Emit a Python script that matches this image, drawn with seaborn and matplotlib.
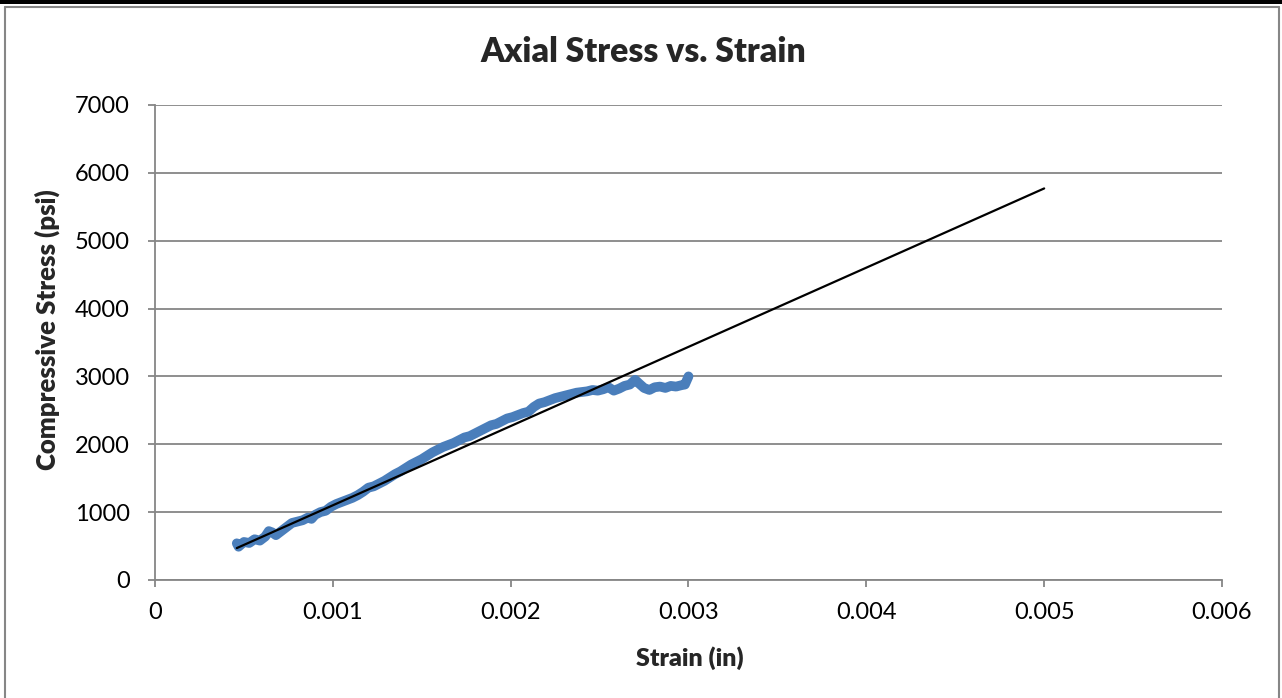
import numpy as np
import pandas as pd
import matplotlib.pyplot as plt
import seaborn as sns
from matplotlib.lines import Line2D
from matplotlib.patches import Rectangle
from matplotlib.ticker import FuncFormatter, MultipleLocator

sns.set_style('white')
plt.rcParams['font.family'] = ['Lato', 'DejaVu Sans']

strain_milli = [0.46, 0.47, 0.50, 0.53, 0.56, 0.59, 0.62, 0.64, 0.66, 0.68,
                0.71, 0.74, 0.77, 0.80, 0.83, 0.86, 0.88, 0.90, 0.93, 0.96,
                0.99, 1.02, 1.05, 1.08, 1.11, 1.14, 1.17, 1.20, 1.23, 1.26,
                1.29, 1.32, 1.35, 1.38, 1.41, 1.44, 1.47, 1.50, 1.53, 1.56,
                1.59, 1.62, 1.65, 1.68, 1.71, 1.74, 1.77, 1.80, 1.83, 1.86,
                1.89, 1.92, 1.95, 1.98, 2.01, 2.04, 2.07, 2.10, 2.13, 2.16,
                2.19, 2.22, 2.25, 2.28, 2.31, 2.34, 2.37, 2.40, 2.43, 2.46,
                2.49, 2.52, 2.55, 2.58, 2.61, 2.64, 2.67, 2.70, 2.72, 2.75,
                2.78, 2.81, 2.84, 2.87, 2.90, 2.93, 2.96, 2.98, 3.00]
stress = [540, 490, 560, 545, 600, 580, 640, 720, 700, 660,
          720, 780, 840, 860, 880, 920, 900, 960, 1000, 1020,
          1080, 1120, 1150, 1180, 1210, 1250, 1300, 1360, 1380, 1420,
          1460, 1510, 1560, 1600, 1650, 1700, 1740, 1780, 1830, 1880,
          1920, 1960, 1990, 2020, 2060, 2100, 2120, 2160, 2200, 2240,
          2280, 2300, 2340, 2380, 2400, 2430, 2460, 2480, 2550, 2600,
          2620, 2650, 2680, 2700, 2720, 2740, 2760, 2770, 2780, 2800,
          2790, 2810, 2840, 2790, 2820, 2860, 2880, 2950, 2900, 2830,
          2800, 2840, 2850, 2830, 2860, 2850, 2870, 2880, 3000]

# linear trend line end points
trend_strain = [0.00046, 0.005]
trend_stress = [470, 5770]

df = pd.DataFrame(dict(strain=np.array(strain_milli) / 1000, stress=stress))
trend = pd.DataFrame(dict(strain=trend_strain, stress=trend_stress))

fig = plt.figure(figsize=(12.82, 6.98), dpi=100)
ax = fig.add_axes([0.1209, 0.1691, 0.8323, 0.6805])

sns.lineplot(data=df, x='strain', y='stress', ax=ax, color='#4a7ebb',
             lw=7, sort=False, estimator=None, solid_capstyle='round',
             solid_joinstyle='round')
sns.lineplot(data=trend, x='strain', y='stress', ax=ax, color='black',
             lw=1.6, sort=False, estimator=None)

grey = '#868686'
ax.set_xlim(0, 0.006)
ax.set_ylim(0, 7000)
ax.xaxis.set_major_locator(MultipleLocator(0.001))
ax.yaxis.set_major_locator(MultipleLocator(1000))
ax.xaxis.set_major_formatter(FuncFormatter(lambda v, p: '{:g}'.format(round(v, 4))))
ax.yaxis.grid(True, color=grey, lw=1.3)
ax.set_axisbelow(True)
for s in ['top', 'right']:
    ax.spines[s].set_visible(False)
for s in ['left', 'bottom']:
    ax.spines[s].set_color(grey)
    ax.spines[s].set_linewidth(1.3)
ax.tick_params(axis='both', direction='out', length=5, width=1.3,
               color=grey, labelsize=17, labelcolor='black')
ax.tick_params(axis='x', pad=11, bottom=True)
ax.tick_params(axis='y', pad=13, left=True)

fig.text(0.502, 1 - 52 / 698, 'Axial Stress vs. Strain', fontsize=24.3,
         fontweight='heavy', ha='center', va='center')
ax.set_xlabel('Strain (in)', fontsize=18, fontweight='heavy')
ax.set_ylabel('Compressive Stress (psi)', fontsize=18.5, fontweight='heavy')
ax.xaxis.set_label_coords(0.501, -0.14)
ax.yaxis.set_label_coords(-0.089, 0.526)

# chart frame like the spreadsheet export
W, H = 1282, 698
fig.add_artist(Rectangle((0, 1 - 3.5 / H), 1, 3.5 / H, transform=fig.transFigure,
                         color='black', lw=0))
fig.add_artist(Line2D([5 / W, 5 / W], [0, 1 - 7 / H], transform=fig.transFigure,
                      color=grey, lw=1.5))
fig.add_artist(Line2D([1279 / W, 1279 / W], [0, 1 - 7 / H], transform=fig.transFigure,
                      color=grey, lw=1.5))
fig.add_artist(Line2D([5 / W, 1279 / W], [1 - 7 / H, 1 - 7 / H], transform=fig.transFigure,
                      color=grey, lw=1.5))

fig.savefig('out.png', dpi=100)
